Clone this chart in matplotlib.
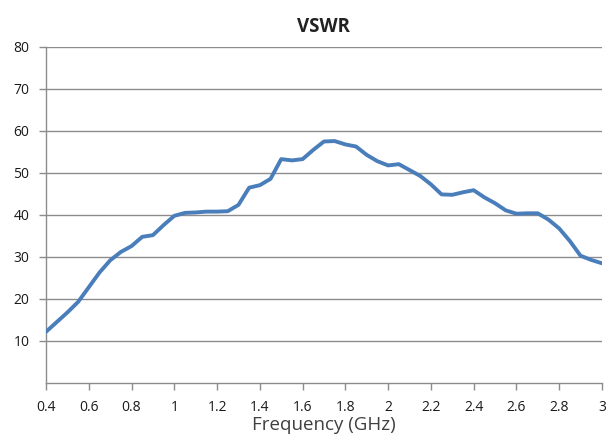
import matplotlib
matplotlib.use("Agg")
import matplotlib.pyplot as plt

# frequency (GHz) and VSWR
freq = [0.40, 0.45, 0.50, 0.55, 0.60, 0.65, 0.70, 0.75, 0.80, 0.85,
        0.90, 0.95, 1.00, 1.05, 1.10, 1.15, 1.20, 1.25, 1.30, 1.35,
        1.40, 1.45, 1.50, 1.55, 1.60, 1.65, 1.70, 1.75, 1.80, 1.85,
        1.90, 1.95, 2.00, 2.05, 2.10, 2.15, 2.20, 2.25, 2.30, 2.35,
        2.40, 2.45, 2.50, 2.55, 2.60, 2.65, 2.70, 2.75, 2.80, 2.85,
        2.90, 2.95, 3.00]
vswr = [12.2, 14.5, 16.8, 19.3, 22.8, 26.3, 29.2, 31.2, 32.6, 34.8,
        35.2, 37.6, 39.8, 40.5, 40.6, 40.8, 40.8, 40.9, 42.4, 46.5,
        47.1, 48.6, 53.3, 53.0, 53.3, 55.5, 57.5, 57.6, 56.8, 56.3,
        54.3, 52.8, 51.8, 52.1, 50.7, 49.3, 47.3, 44.9, 44.8, 45.4,
        45.9, 44.2, 42.8, 41.1, 40.3, 40.4, 40.4, 38.9, 36.8, 33.8,
        30.3, 29.3, 28.5]

xticks = [0.4, 0.6, 0.8, 1, 1.2, 1.4, 1.6, 1.8, 2, 2.2, 2.4, 2.6, 2.8, 3]
xlabels = ["0.4", "0.6", "0.8", "1", "1.2", "1.4", "1.6", "1.8", "2",
           "2.2", "2.4", "2.6", "2.8", "3"]
yticks = [10, 20, 30, 40, 50, 60, 70, 80]

plt.rcParams['font.family'] = ['Open Sans', 'DejaVu Sans']

fig = plt.figure(figsize=(6.08, 4.47), dpi=100)
ax = fig.add_axes([0.0757, 0.1432, 0.9143, 0.7517])

grid_c = '#8c8c8c'
ax.plot(freq, vswr, color='#4a7ebb', lw=2.8, solid_capstyle='round',
        solid_joinstyle='round', zorder=3)

ax.set_xlim(0.4, 3)
ax.set_ylim(0, 80)
ax.set_xticks(xticks)
ax.set_xticklabels(xlabels)
ax.set_yticks(yticks)
ax.yaxis.grid(True, color=grid_c, lw=1)
ax.set_axisbelow(True)

for s in ['top', 'right']:
    ax.spines[s].set_visible(False)
for s in ['left', 'bottom']:
    ax.spines[s].set_color(grid_c)
    ax.spines[s].set_linewidth(1)

ax.tick_params(axis='both', direction='out', length=5, width=1,
               color=grid_c, labelsize=10, labelcolor='#1a1a1a', pad=7)

ax.set_title('VSWR', fontsize=13.5, fontweight='bold', color='#222222', pad=11)
ax.set_xlabel('Frequency (GHz)', fontsize=13.5, color='#404040', labelpad=1)

fig.savefig('out.png', dpi=100)
